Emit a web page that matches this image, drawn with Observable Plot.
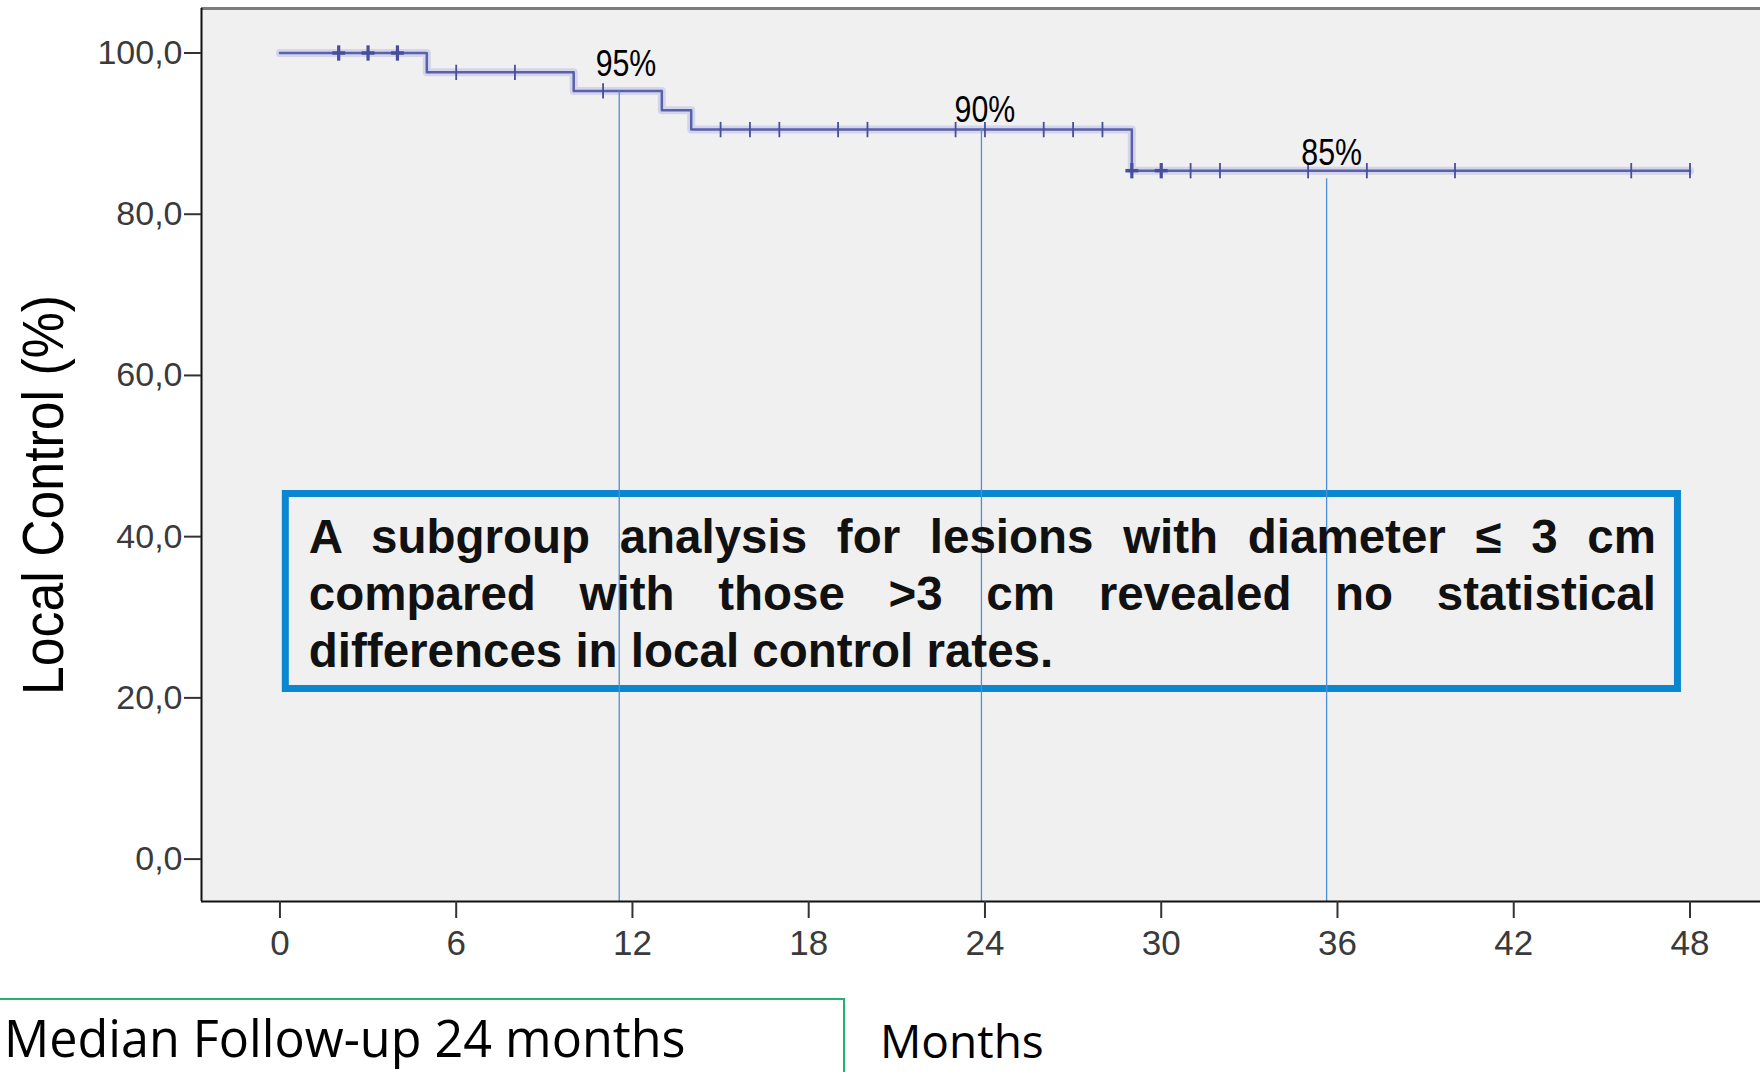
<!DOCTYPE html>
<html>
<head>
<meta charset="utf-8">
<script src="https://cdn.jsdelivr.net/npm/d3@7"></script>
<script src="https://cdn.jsdelivr.net/npm/@observablehq/plot@0.6"></script>
<style>
  html, body { margin: 0; padding: 0; background: #fff; }
  #wrap { position: relative; width: 1760px; height: 1072px; overflow: hidden; }
  #chart svg { display: block; }
  #note { position: absolute; box-sizing: border-box; font-family: "Liberation Sans", Arial, sans-serif;
          font-weight: bold; font-size: 47.5px; line-height: 57px; color: #111; padding: 11px 18px 0 20px; }
  #note .j { text-align: justify; text-align-last: justify; }
  #note .l { text-align: left; }
  #fbox { position: absolute; left: -2px; top: 998px; width: 847px; height: 120px; box-sizing: border-box;
          border: 2px solid #22b46e; }
  .ftxt { position: absolute; font-family: "Open Sans", "Noto Sans", sans-serif; line-height: 1; color: #000; white-space: nowrap; }
</style>
</head>
<body>
<div id="wrap">
  <div id="chart"></div>
  <div id="note"></div>
  <div id="fbox"></div>
  <div id="median" class="ftxt" style="left:4px; top:1012.5px; font-size:50.3px;"></div>
  <div id="xlabel" class="ftxt" style="left:880px; top:1017px; font-size:46px;"></div>
</div>
<script>
// ---- data ----
const stepMonths   = [0, 5, 10, 13, 14, 29, 48];
const stepSurvival = [100, 97.6, 95.3, 92.9, 90.5, 85.4, 85.4];

const censorMonths = [2, 3, 4, 6, 8, 11, 15, 16, 17, 19, 20, 23, 24, 26, 27, 28, 29, 30, 31, 32, 35, 37, 40, 46, 48];
const censorCounts = [2, 2, 2, 1, 1, 1, 1, 1, 1, 1, 1, 1, 1, 1, 1, 1, 2, 2, 1, 1, 1, 1, 1, 1, 1];

const markerMonths = [11.55, 23.88, 35.63];
const markerTop    = [95.3, 90.5, 84.4];
const markerLabels = ["95%", "90%", "85%"];
const labelMonths  = [11.78, 24.0, 35.8];
const labelLevels  = [97.2, 91.5, 86.05];

const xTicks = [0, 6, 12, 18, 24, 30, 36, 42, 48];
const yTicks = [0, 20, 40, 60, 80, 100];

const noteMonths = [0.2, 47.59];
const noteLevels = [21.1, 45.29];
const noteLines = [
  "A subgroup analysis for lesions with diameter \u2264 3 cm",
  "compared with those >3 cm revealed no statistical",
  "differences in local control rates."
];

const yTitle = "Local Control (%)";
const xTitle = "Months";
const footNote = "Median Follow-up 24 months";

const xDomain = [-2.67, 50.40];
const yDomain = [-5.26, 105.52];

(function () {
  const steps = stepMonths.map((m, i) => ({month: m, s: stepSurvival[i]}));
  function survAt(t) {
    let s = stepSurvival[0];
    for (let i = 0; i < stepMonths.length; i++) if (stepMonths[i] <= t) s = stepSurvival[i];
    return s;
  }
  const censors = censorMonths.map((m, i) => ({month: m, s: survAt(m), n: censorCounts[i]}));
  const markers = markerMonths.map((m, i) => ({month: m, top: markerTop[i], label: markerLabels[i], lx: labelMonths[i], ly: labelLevels[i]}));
  const note = {x1: noteMonths[0], x2: noteMonths[1], y1: noteLevels[0], y2: noteLevels[1]};

  const plot = Plot.plot({
    width: 1760, height: 990,
    marginLeft: 201, marginRight: 0, marginTop: 8, marginBottom: 89,
    style: {fontFamily: "'Liberation Sans', Arial, sans-serif", background: "transparent", overflow: "visible"},
    x: {domain: xDomain},
    y: {domain: yDomain},
    marks: [
      Plot.frame({fill: "#f0f0f0", stroke: "none"}),
      Plot.rect([note], {x1: "x1", x2: "x2", y1: "y1", y2: "y2", fill: "none", stroke: "#0a87d0", strokeWidth: 7}),
      Plot.line(steps, {x: "month", y: "s", curve: "step-after", stroke: "#c6c9e8", strokeWidth: 8, strokeOpacity: 0.7}),
      Plot.line(steps, {x: "month", y: "s", curve: "step-after", stroke: "#5a60aa", strokeWidth: 2.5}),
      Plot.link(censors.filter(d => d.n > 1), {x1: d => d.month - 0.22, x2: d => d.month + 0.22, y1: "s", y2: "s", stroke: "#474e9a", strokeWidth: 3.5}),
      Plot.link(censors, {x1: "month", x2: "month", y1: d => d.s - 0.95, y2: d => d.s + 0.95, stroke: "#474e9a", strokeWidth: d => d.n > 1 ? 3.2 : 1.8}),
      Plot.ruleX(markers, {x: "month", y1: "top", y2: () => yDomain[0], stroke: "#4f8fd6", strokeWidth: 1.3}),
      Plot.text(markers, {x: "lx", y: "ly", text: "label", lineAnchor: "bottom", fontSize: 37, fill: "#000"}),
      Plot.ruleY([yDomain[1]], {stroke: "#7d7d7d", strokeWidth: 3}),
      Plot.ruleX([xDomain[0]], {stroke: "#111", strokeWidth: 2}),
      Plot.ruleY([yDomain[0]], {stroke: "#111", strokeWidth: 2}),
      Plot.axisX({ticks: xTicks, tickSize: 17, tickPadding: 12, fontSize: 35, stroke: "#333", fill: "#3a3a3a", strokeWidth: 2, label: null, tickFormat: d => String(d)}),
      Plot.axisY({ticks: yTicks, tickSize: 17, tickPadding: 2, fontSize: 34, stroke: "#333", fill: "#3a3a3a", strokeWidth: 2, label: null,
        tickFormat: d => d.toFixed(1).replace(".", ",")}),
      Plot.text([yTitle], {text: d => d, frameAnchor: "left", textAnchor: "middle", rotate: -90, dx: -157, dy: 40, fontSize: 58, fill: "#000"})
    ]
  });
  document.getElementById("chart").appendChild(plot);

  // condense the percentage labels and the y title horizontally, as in the reference
  d3.select(plot).selectAll("text").each(function () {
    const t = this.textContent;
    if (markerLabels.includes(t)) {
      const w = this.getComputedTextLength();
      this.setAttribute("textLength", (w * 0.82).toFixed(1));
      this.setAttribute("lengthAdjust", "spacingAndGlyphs");
    } else if (t === yTitle) {
      this.setAttribute("textLength", "400");
      this.setAttribute("lengthAdjust", "spacingAndGlyphs");
    }
  });

  const xs = plot.scale("x"), ys = plot.scale("y");
  const half = 3.5;
  const bl = xs.apply(note.x1) + half, br = xs.apply(note.x2) - half;
  const bt = ys.apply(note.y2) + half, bb = ys.apply(note.y1) - half;
  const noteDiv = document.getElementById("note");
  noteDiv.style.left = bl + "px";
  noteDiv.style.top = bt + "px";
  noteDiv.style.width = (br - bl) + "px";
  noteDiv.style.height = (bb - bt) + "px";
  noteLines.forEach((t, i) => {
    const d = document.createElement("div");
    d.className = i < noteLines.length - 1 ? "j" : "l";
    d.textContent = t;
    noteDiv.appendChild(d);
  });
  document.getElementById("median").textContent = footNote;
  document.getElementById("xlabel").textContent = xTitle;
})();
</script>
</body>
</html>
